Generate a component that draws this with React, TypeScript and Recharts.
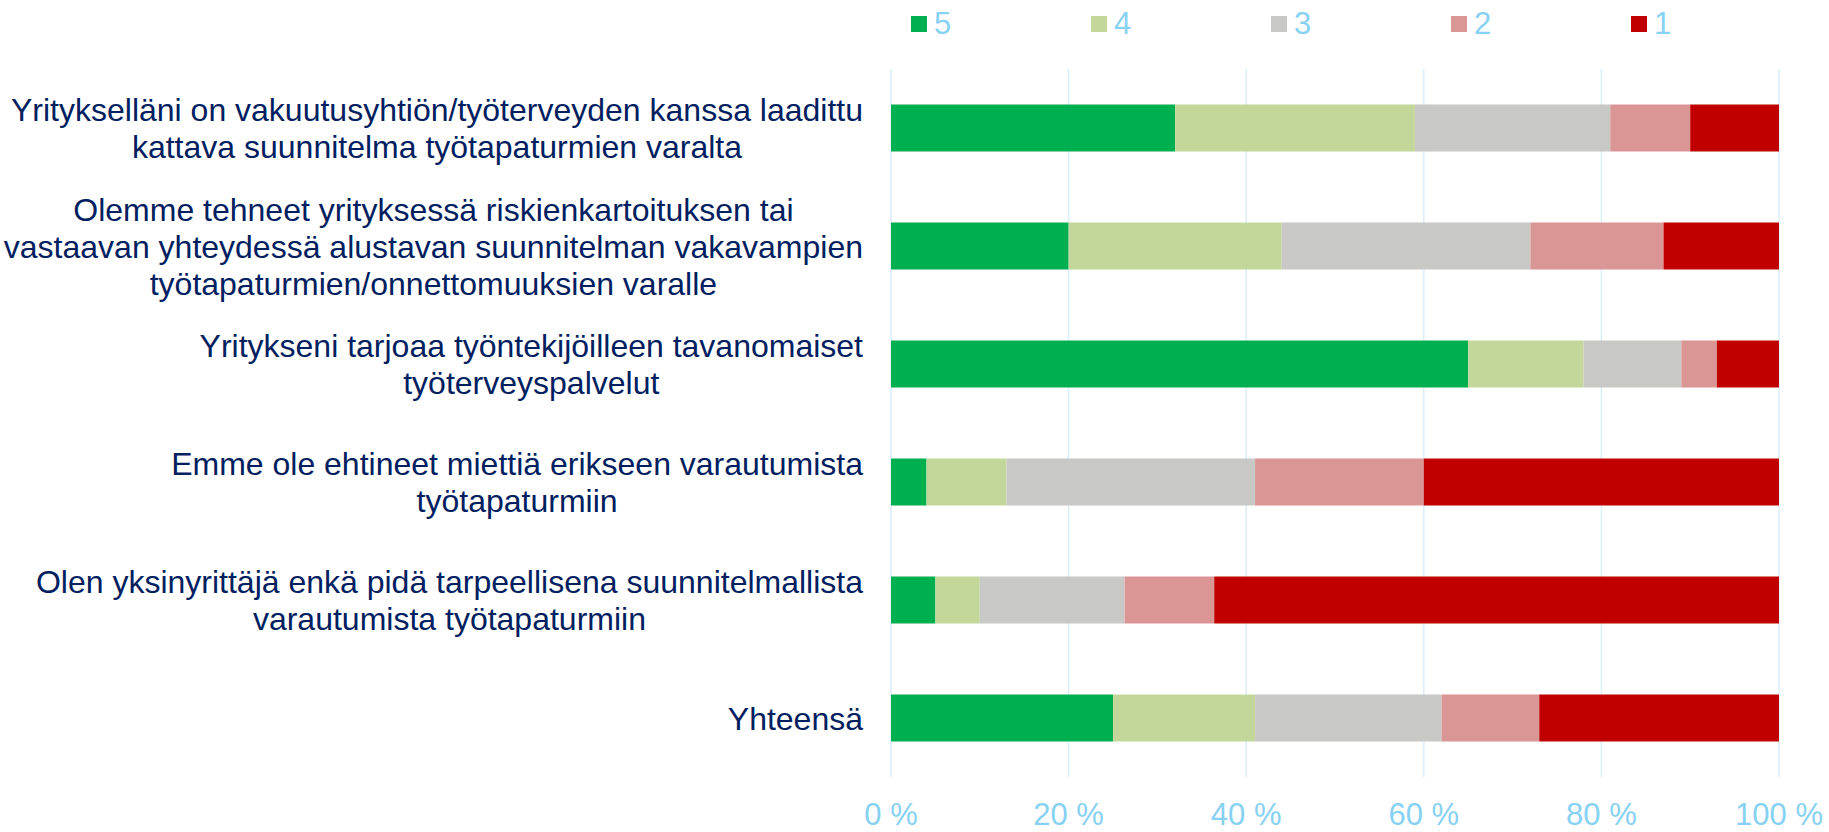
import { BarChart, Bar, XAxis, YAxis, CartesianGrid, Legend } from 'recharts';

const categories = [
  'Yritykselläni on vakuutusyhtiön/työterveyden kanssa laadittu\nkattava suunnitelma työtapaturmien varalta',
  'Olemme tehneet yrityksessä riskienkartoituksen tai\nvastaavan yhteydessä alustavan suunnitelman vakavampien\ntyötapaturmien/onnettomuuksien varalle',
  'Yritykseni tarjoaa työntekijöilleen tavanomaiset\ntyöterveyspalvelut',
  'Emme ole ehtineet miettiä erikseen varautumista\ntyötapaturmiin',
  'Olen yksinyrittäjä enkä pidä tarpeellisena suunnitelmallista\nvarautumista työtapaturmiin',
  'Yhteensä',
];

// percent shares per answer (5 = best, 1 = worst)
const s5 = [32, 20, 65, 4, 5, 25];
const s4 = [27, 24, 13, 9, 5, 16];
const s3 = [22, 28, 11, 28, 16.3, 21];
const s2 = [9, 15, 4, 19, 10.1, 11];
const s1 = [10, 13, 7, 40, 63.6, 27];

const xTicks = [0, 20, 40, 60, 80, 100];

const seriesNames = ['5', '4', '3', '2', '1'];
const seriesColors = ['#00B050', '#C4D79B', '#C8C8C6', '#DA9694', '#C00000'];

const FONT = "'Liberation Sans', Arial, sans-serif";
const LABEL_SIZE = 32;
const LABEL_COLOR = '#002060';
const AXIS_COLOR = '#87D1F2';

const data = categories.map((name, i) => ({
  name,
  s5: s5[i],
  s4: s4[i],
  s3: s3[i],
  s2: s2[i],
  s1: s1[i],
}));

let ctx: CanvasRenderingContext2D | null = null;
function measure(text: string) {
  if (!ctx) ctx = document.createElement('canvas').getContext('2d');
  if (!ctx) return text.length * LABEL_SIZE * 0.5;
  ctx.font = `${LABEL_SIZE}px ${FONT}`;
  return ctx.measureText(text).width;
}

function CategoryTick(props: any) {
  const { x, y, payload } = props;
  const lines: string[] = String(payload.value).split('\n');
  const lineH = 37;
  const right = x - 20;
  const blockW = Math.max(...lines.map(measure));
  const center = right - blockW / 2;
  const startY = y - ((lines.length - 1) * lineH) / 2;
  return (
    <text
      x={center}
      y={startY}
      textAnchor="middle"
      fill={LABEL_COLOR}
      fontSize={LABEL_SIZE}
      fontFamily={FONT}
    >
      {lines.map((l, i) => (
        <tspan key={i} x={center} y={startY + i * lineH} dy="0.36em">
          {l}
        </tspan>
      ))}
    </text>
  );
}

function LegendContent(props: any) {
  const items = [...(props.payload || [])].sort(
    (a: any, b: any) => seriesNames.indexOf(String(a.value)) - seriesNames.indexOf(String(b.value))
  );
  return (
    <div style={{ display: 'flex', fontFamily: FONT }}>
      {items.map((it: any) => (
        <div
          key={it.value}
          style={{ width: 180, display: 'flex', alignItems: 'center', height: 31 }}
        >
          <span
            style={{ width: 16, height: 16, background: it.color, marginRight: 7, display: 'inline-block' }}
          />
          <span style={{ fontSize: 31, lineHeight: '31px', color: AXIS_COLOR }}>{it.value}</span>
        </div>
      ))}
    </div>
  );
}

export default function App() {
  return (
    <div style={{ position: 'absolute', left: 0, top: 0, background: '#fff' }}>
      <BarChart
        width={1829}
        height={832}
        data={data}
        layout="vertical"
        margin={{ top: 69, right: 50, bottom: 0, left: 0 }}
        barCategoryGap="30%"
      >
        <CartesianGrid horizontal={false} stroke="#DCEEF8" strokeWidth={1.5} />
        <XAxis
          type="number"
          domain={[0, 100]}
          ticks={xTicks}
          tickFormatter={(v) => `${v} %`}
          axisLine={false}
          tickLine={false}
          tickMargin={20}
          height={55}
          tick={{ fill: AXIS_COLOR, fontSize: 31, fontFamily: FONT }}
        />
        <YAxis
          type="category"
          dataKey="name"
          width={891}
          axisLine={false}
          tickLine={false}
          tick={<CategoryTick />}
          interval={0}
        />
        <Legend
          layout="horizontal"
          verticalAlign="middle"
          align="center"
          content={<LegendContent />}
          wrapperStyle={{ top: 8, left: 911, width: 950, height: 31 }}
        />
        {['s5', 's4', 's3', 's2', 's1'].map((k, i) => (
          <Bar
            key={k}
            dataKey={k}
            name={seriesNames[i]}
            stackId="a"
            fill={seriesColors[i]}
            isAnimationActive={false}
          />
        ))}
      </BarChart>
    </div>
  );
}
